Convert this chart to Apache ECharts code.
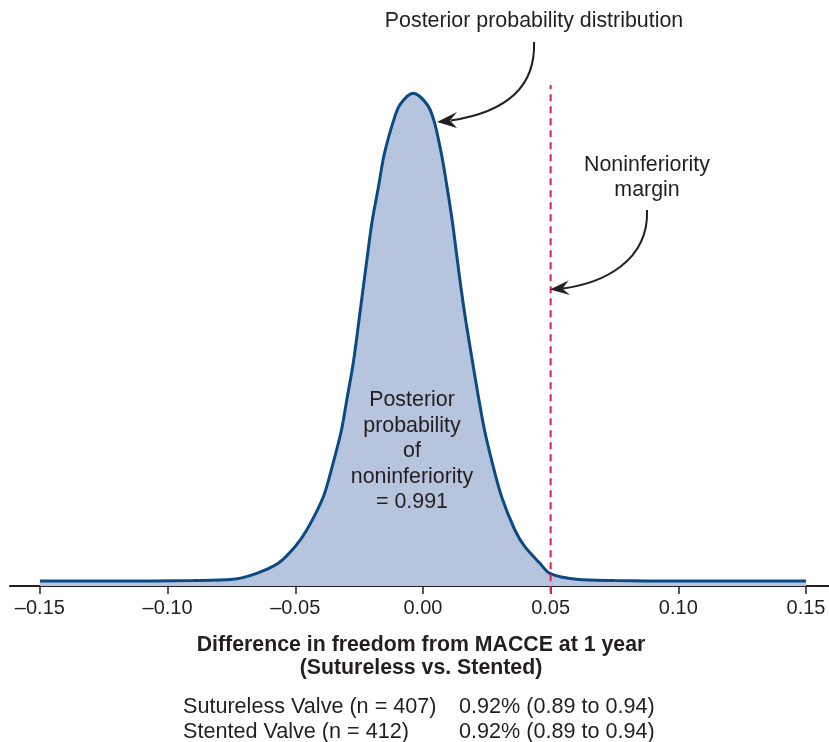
<!DOCTYPE html>
<html>
<head>
<meta charset="utf-8">
<script src="https://cdn.jsdelivr.net/npm/echarts@6/dist/echarts.min.js"></script>
<style>
html,body{margin:0;padding:0;background:#fff;}
#chart{width:829px;height:742px;}
</style>
</head>
<body>
<div id="chart"></div>
<script>
// posterior curve (x = difference, y = height relative to peak)
var diffValues = [-0.15, -0.12, -0.09, -0.0744, -0.0651, -0.0567, -0.0501, -0.0455, -0.0390, -0.0352,
	-0.0319, -0.0296, -0.0273, -0.0251, -0.0234, -0.0217, -0.0199, -0.0175, -0.0152, -0.0116,
	-0.0090, -0.0038, 0.0017, 0.0044, 0.0073, 0.0095, 0.0115, 0.0132, 0.0149, 0.0168,
	0.0195, 0.0217, 0.0241, 0.0272, 0.0308, 0.0360, 0.0399, 0.0458, 0.0497, 0.0602,
	0.075, 0.10, 0.15];
var densityValues = [0.001, 0.001, 0.002, 0.0045, 0.0168, 0.0373, 0.0713, 0.1055, 0.1737, 0.2421,
	0.3103, 0.3785, 0.4469, 0.5330, 0.6012, 0.6694, 0.7378, 0.8060, 0.8742, 0.9426,
	0.9766, 1.0, 0.9766, 0.9426, 0.8742, 0.8060, 0.7378, 0.6694, 0.6012, 0.5330,
	0.4469, 0.3785, 0.3103, 0.2421, 0.1737, 0.1055, 0.0713, 0.0373, 0.0168, 0.0045,
	0.002, 0.001, 0.001];
var tickValues = [-0.15, -0.10, -0.05, 0, 0.05, 0.10, 0.15];
var marginValue = 0.05;
var marginSpan = [-0.024, 1.017];

var groupLabels = ['Sutureless Valve (n = 407)', 'Stented Valve (n = 412)'];
var groupResults = ['0.92% (0.89 to 0.94)', '0.92% (0.89 to 0.94)'];

var curveData = [];
for (var i = 0; i < diffValues.length; i++) {
	curveData.push([diffValues[i], densityValues[i]]);
}
var marginData = [[marginValue, marginSpan[0]], [marginValue, marginSpan[1]]];

var txt = '#231f20';
var fam = '"Liberation Sans", Arial, Helvetica, sans-serif';

var myChart = echarts.init(document.getElementById('chart'));
var option = {
	animation: false,
	backgroundColor: '#ffffff',
	grid: {
		left: 10, right: 0, top: 44.5, bottom: 156,
		outerBoundsMode: 'none'
	},
	xAxis: {
		type: 'value',
		min: -0.1617,
		max: 0.159,
		splitLine: { show: false },
		axisLine: { show: true, onZero: false, lineStyle: { color: txt, width: 2 } },
		axisTick: { show: true, customValues: tickValues, length: 8, lineStyle: { color: txt, width: 1.5 } },
		axisLabel: {
			customValues: tickValues,
			margin: 12,
			color: txt,
			fontSize: 20,
			fontFamily: fam,
			formatter: function (v) {
				return (v < 0 ? '\u2013' : '') + Math.abs(v).toFixed(2);
			}
		}
	},
	yAxis: {
		type: 'value',
		min: -0.0092,
		max: 1.1,
		show: false
	},
	series: [
		{
			name: 'posterior',
			type: 'line',
			data: curveData,
			symbol: 'none',
			smooth: 0.3,
			lineStyle: { color: '#0b4a82', width: 3 },
			areaStyle: { color: '#b7c4de', opacity: 1, origin: 'start' },
			z: 2
		},
		{
			name: 'margin',
			type: 'line',
			data: marginData,
			symbol: 'none',
			clip: false,
			lineStyle: { color: '#dc1e4c', width: 2, type: [7, 5] },
			z: 3
		}
	],
	graphic: [
		{ type: 'text', z: 100, style: { text: 'Posterior probability distribution', x: 534, y: 21, align: 'center', verticalAlign: 'middle', fill: txt, font: '21.4px ' + fam } },
		{ type: 'bezierCurve', z: 100, shape: { x1: 534, y1: 42, cpx1: 536, cpy1: 92, cpx2: 500, cpy2: 113, x2: 451, y2: 120.5 }, style: { stroke: txt, lineWidth: 2, fill: null } },
		{ type: 'polygon', z: 100, shape: { points: [[437, 122], [457, 112], [450, 120.5], [457, 128]] }, style: { fill: txt } },
		{ type: 'text', z: 100, style: { text: 'Noninferiority\nmargin', x: 647, y: 178, align: 'center', verticalAlign: 'middle', lineHeight: 25, fill: txt, font: '21.4px ' + fam } },
		{ type: 'bezierCurve', z: 100, shape: { x1: 647, y1: 210, cpx1: 649, cpy1: 262, cpx2: 602, cpy2: 283, x2: 563, y2: 288.5 }, style: { stroke: txt, lineWidth: 2, fill: null } },
		{ type: 'polygon', z: 100, shape: { points: [[550, 289.5], [568.5, 280.5], [562.5, 288.7], [570, 295]] }, style: { fill: txt } },
		{ type: 'text', z: 100, style: { text: 'Posterior\nprobability\nof\nnoninferiority\n= 0.991', x: 412, y: 451.5, align: 'center', verticalAlign: 'middle', lineHeight: 25.5, fill: txt, font: '21.4px ' + fam } },
		{ type: 'text', z: 100, style: { text: 'Difference in freedom from MACCE at 1 year\n(Sutureless vs. Stented)', x: 421, y: 656.5, align: 'center', verticalAlign: 'middle', lineHeight: 23, fill: txt, font: 'bold 21.3px ' + fam } },
		{ type: 'text', z: 100, style: { text: groupLabels.join('\n'), x: 183, y: 719.5, align: 'left', verticalAlign: 'middle', lineHeight: 25, fill: txt, font: '21.6px ' + fam } },
		{ type: 'text', z: 100, style: { text: groupResults.join('\n'), x: 459, y: 719.5, align: 'left', verticalAlign: 'middle', lineHeight: 25, fill: txt, font: '21.6px ' + fam } }
	]
};
myChart.setOption(option);
</script>
</body>
</html>
